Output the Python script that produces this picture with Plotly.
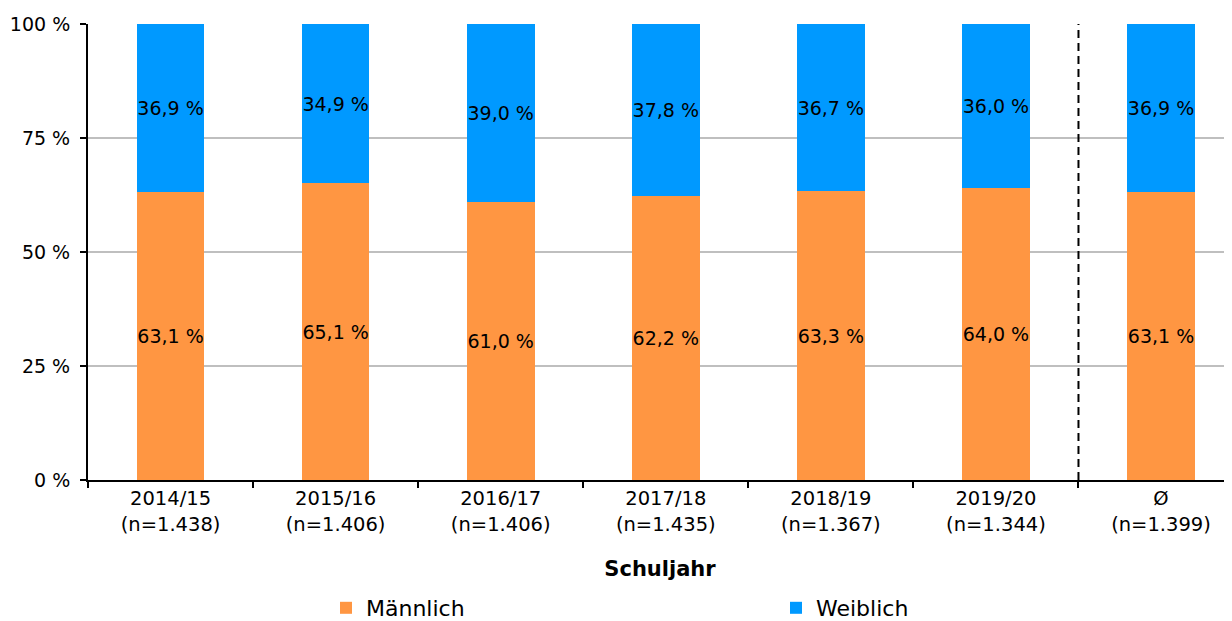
import plotly.graph_objects as go

years = ["2014/15", "2015/16", "2016/17", "2017/18", "2018/19", "2019/20", "Ø"]
n_values = ["1.438", "1.406", "1.406", "1.435", "1.367", "1.344", "1.399"]
maennlich = [63.1, 65.1, 61.0, 62.2, 63.3, 64.0, 63.1]
weiblich = [36.9, 34.9, 39.0, 37.8, 36.7, 36.0, 36.9]
y_ticks = [0, 25, 50, 75, 100]

categories = [f"{y}<br>(n={n})" for y, n in zip(years, n_values)]


def fmt(v):
    return f"{v:.1f} %".replace(".", ",")


FONT = "DejaVu Sans"
ORANGE = "#FF9642"
BLUE = "#0099FF"
W, H = 1224, 613

fig = go.Figure()
fig.add_trace(go.Bar(
    name="Männlich", x=categories, y=maennlich, marker_color=ORANGE,
    marker_line_width=0,
    text=[fmt(v) for v in maennlich], textposition="inside",
    insidetextanchor="middle", textangle=0,
    textfont=dict(family=FONT, size=19, color="black"),
    constraintext="none", width=0.41,
))
fig.add_trace(go.Bar(
    name="Weiblich", x=categories, y=weiblich, marker_color=BLUE,
    marker_line_width=0,
    text=[fmt(v) for v in weiblich], textposition="inside",
    insidetextanchor="middle", textangle=0,
    textfont=dict(family=FONT, size=19, color="black"),
    constraintext="none", width=0.41,
))

fig.add_shape(type="line", xref="x", yref="y", x0=5.5, x1=5.5, y0=0, y1=100,
              line=dict(color="black", width=2, dash="8px,5px"))

fig.update_layout(
    barmode="stack",
    width=W, height=H,
    margin=dict(l=80, r=0, t=16, b=141, autoexpand=False),
    paper_bgcolor="white", plot_bgcolor="white",
    font=dict(family=FONT, size=19, color="black"),
    uniformtext=dict(mode=False),
    legend=dict(
        orientation="h", xref="container", yref="container",
        x=318 / W, y=13 / H, xanchor="left", yanchor="middle",
        entrywidth=405, entrywidthmode="pixels", traceorder="normal",
        font=dict(family=FONT, size=22, color="black"),
        bgcolor="rgba(0,0,0,0)", borderwidth=0,
    ),
    xaxis=dict(
        range=[-0.5, 6.43], tickson="boundaries", ticks="outside", ticklen=6,
        tickwidth=2, tickcolor="black", showline=True, linecolor="black",
        linewidth=2, showgrid=False, tickfont=dict(size=19.5), automargin=False,
        title=dict(text="<b>Schuljahr</b>", font=dict(size=21), standoff=27),
    ),
    yaxis=dict(
        range=[0, 100], tickmode="array", tickvals=y_ticks,
        ticktext=[f"{v} %" for v in y_ticks],
        ticks="outside", ticklen=6, tickwidth=2, tickcolor="black",
        ticklabelstandoff=6,
        showline=True, linecolor="black", linewidth=2, automargin=False,
        showgrid=True, gridcolor="#BFBFBF", gridwidth=1.5, zeroline=False,
        tickfont=dict(size=19),
    ),
)

fig.write_html("out.html")
